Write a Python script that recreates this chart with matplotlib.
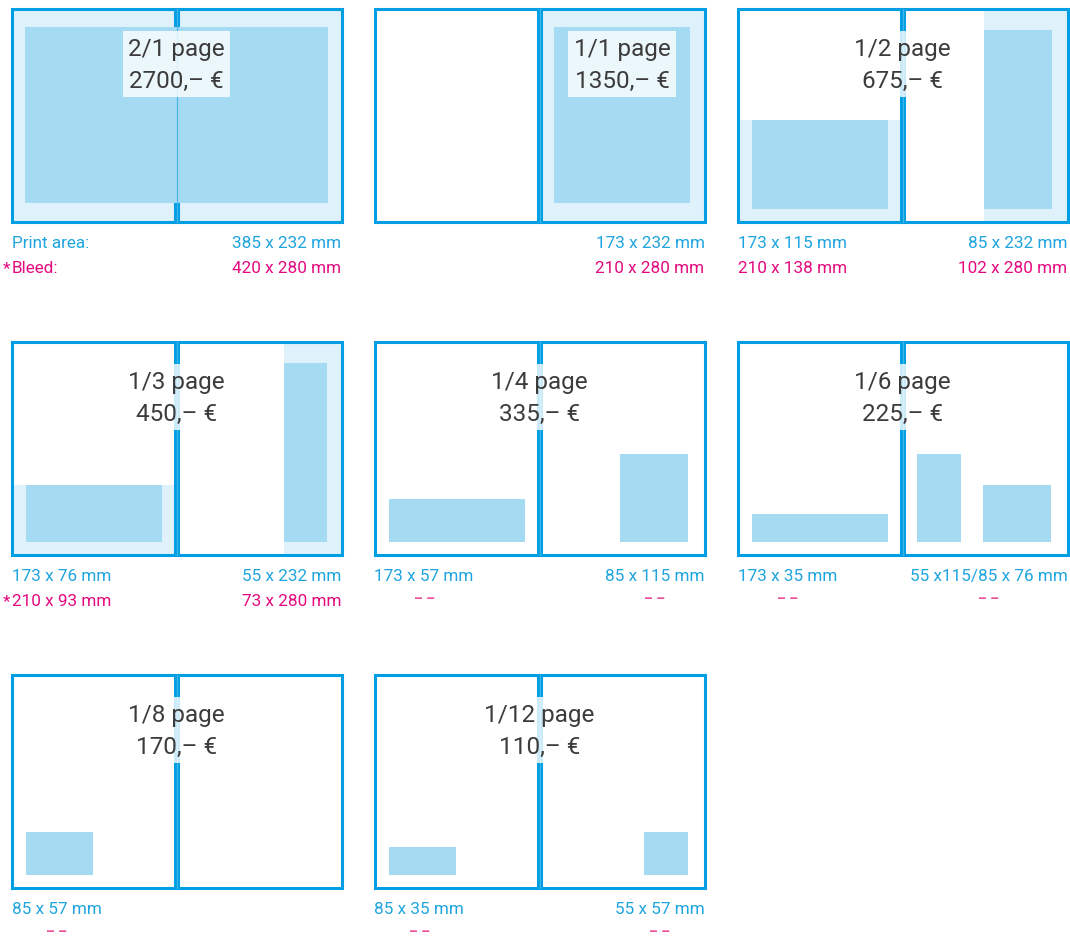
import matplotlib
matplotlib.use("Agg")
import matplotlib.pyplot as plt
from matplotlib.patches import Rectangle

plt.rcParams['font.family'] = ['Roboto', 'DejaVu Sans']

# ad formats, one double page spread per panel
titles = ["2/1 page", "1/1 page", "1/2 page", "1/3 page",
          "1/4 page", "1/6 page", "1/8 page", "1/12 page"]
prices = ["2700,– €", "1350,– €", "675,– €", "450,– €",
          "335,– €", "225,– €", "170,– €", "110,– €"]

# size labels under each spread (blue = print area, magenta = bleed)
print_left = ["Print area:", "", "173 x 115 mm", "173 x 76 mm",
              "173 x 57 mm", "173 x 35 mm", "85 x 57 mm", "85 x 35 mm"]
print_right = ["385 x 232 mm", "173 x 232 mm", "85 x 232 mm", "55 x 232 mm",
               "85 x 115 mm", "55 x115/85 x 76 mm", "", "55 x 57 mm"]
bleed_left = ["*Bleed:", "", "210 x 138 mm", "*210 x 93 mm",
              "– –", "– –", "– –", "– –"]
bleed_right = ["420 x 280 mm", "210 x 280 mm", "102 x 280 mm", "73 x 280 mm",
               "– –", "– –", "", "– –"]

# ad areas in mm on a 420 x 280 mm spread: (x, y, width, height), y from top
print_areas = [
    [(17.5, 24, 385, 232)],
    [(228.5, 24, 173, 232)],
    [(18, 147, 173, 116), (314, 28, 86, 236)],
    [(18, 188, 173, 76), (347, 28, 55, 236)],
    [(18, 207, 173, 57), (313, 148, 86, 116)],
    [(18, 227, 173, 37), (228, 148, 56, 116), (313, 188, 86, 76)],
    [(18, 207, 86, 57)],
    [(18, 227, 86, 37), (343, 207, 56, 57)],
]
bleed_areas = [
    [(0, 0, 420, 280)],
    [(210, 0, 210, 280)],
    [(0, 147, 210, 133), (314, 0, 106, 280)],
    [(0, 188, 210, 92), (347, 0, 73, 280)],
    [], [], [], [],
]
# the 1/1 page ad sits on the right page, all others are centred on the spine
title_x = [210, 315, 210, 210, 210, 210, 210, 210]

BLUE = "#009fe3"
TEXT_BLUE = "#1ea4de"
MAGENTA = "#e5097f"
DASH_PINK = "#ea4f9e"
PRINT_FILL = "#a5daf3"
BLEED_FILL = "#dff1fb"
DARK = "#3c3c3c"

W, H = 1070, 937
fig = plt.figure(figsize=(W / 100, H / 100), dpi=100)

col_x = [10, 373, 736]
row_y = [8, 341, 674]
FS = 12.3


def label(ax, text, x, dy, ha, color):
    """ 
    Write a size label below the spread, an asterisk hangs into the margin
    """
    if text.startswith("*"):
        ax.annotate("*", xy=(x, 280), xytext=(-1, dy), textcoords="offset pixels",
                    ha="right", va="center", color=color, fontsize=FS)
        text = text[1:]
    return ax.annotate(text, xy=(x, 280), xytext=(0, dy), textcoords="offset pixels",
                       ha=ha, va="center", color=color, fontsize=FS)


def dashes(ax, above):
    """ 
    No bleed for this format: short pink dashes centred under the size
    """
    ax.annotate("– –", xy=(0.5, 0.5), xycoords=above, xytext=(0, -22),
                textcoords="offset pixels", ha="center", va="center",
                color=DASH_PINK, fontsize=10, fontweight="bold")


for i in range(len(titles)):
    x0 = col_x[i % 3] + 1.5
    y0 = row_y[i // 3] + 1.5
    ax = fig.add_axes([x0 / W, 1 - (y0 + 213) / H, 330 / W, 213 / H])
    ax.set_xlim(0, 420)
    ax.set_ylim(280, 0)
    ax.axis("off")

    # bleed and print areas
    for (x, y, w, h) in bleed_areas[i]:
        ax.add_patch(Rectangle((x, y), w, h, facecolor=BLEED_FILL,
                               edgecolor="none", zorder=1))
    for (x, y, w, h) in print_areas[i]:
        ax.add_patch(Rectangle((x, y), w, h, facecolor=PRINT_FILL,
                               edgecolor="none", zorder=3))

    # the two pages, each with its own frame
    ax.add_patch(Rectangle((0, 0), 208.4, 280, facecolor="none", edgecolor=BLUE,
                           linewidth=2.2, zorder=2, clip_on=False))
    ax.add_patch(Rectangle((211.6, 0), 208.4, 280, facecolor="none", edgecolor=BLUE,
                           linewidth=2.2, zorder=2, clip_on=False))
    ax.plot([210, 210], [0, 280], color="#45b5e8", linewidth=0.8, zorder=3.5,
            clip_on=False)

    # format and price
    ax.text(title_x[i], 73, f"{titles[i]}\n{prices[i]}", ha="center", va="center",
            fontsize=17.5, color=DARK, linespacing=1.5, zorder=5,
            bbox=dict(boxstyle="square,pad=0.22", facecolor="white",
                      edgecolor="none", alpha=0.8))

    # sizes underneath
    if print_left[i]:
        pl = label(ax, print_left[i], 0, -21.5, "left", TEXT_BLUE)
        if bleed_left[i] == "– –":
            dashes(ax, pl)
        elif bleed_left[i]:
            label(ax, bleed_left[i], 0, -46, "left", MAGENTA)
    if print_right[i]:
        pr = label(ax, print_right[i], 420, -21.5, "right", TEXT_BLUE)
        if bleed_right[i] == "– –":
            dashes(ax, pr)
        elif bleed_right[i]:
            label(ax, bleed_right[i], 420, -46, "right", MAGENTA)

fig.savefig("out.png", dpi=100)
